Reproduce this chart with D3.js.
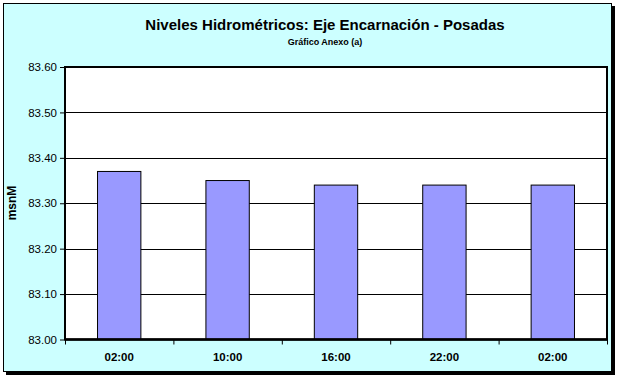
<!DOCTYPE html>
<html lang="es">
<head>
    <meta charset="utf-8">
    <title>Niveles Hidrométricos</title>
    <script src="https://d3js.org/d3.v7.min.js"></script>
    <style>
        body { margin: 0; background: #fff; }
        text { font-family: Arial, "Liberation Sans", sans-serif; }
    </style>
</head>
<body>
<script>
    // data
    const categories = ["02:00", "10:00", "16:00", "22:00", "02:00"];
    const values = [83.37, 83.35, 83.34, 83.34, 83.34];
    const yTicks = [83.00, 83.10, 83.20, 83.30, 83.40, 83.50, 83.60];

    const W = 619, H = 379;
    const plot = {left: 65, top: 67, right: 607, bottom: 339.5};

    const svg = d3.select("body").append("svg")
        .attr("width", W)
        .attr("height", H);

    // shadow + outer frame
    svg.append("rect")
        .attr("x", 6).attr("y", 6)
        .attr("width", 609).attr("height", 369)
        .attr("fill", "#000");
    svg.append("rect")
        .attr("x", 3.5).attr("y", 3.5)
        .attr("width", 608).attr("height", 368)
        .attr("fill", "#CCFFFF")
        .attr("stroke", "#000")
        .attr("stroke-width", 1);

    // titles
    svg.append("text")
        .attr("x", 325).attr("y", 30)
        .attr("text-anchor", "middle")
        .attr("font-size", 15)
        .attr("font-weight", "bold")
        .text("Niveles Hidrométricos: Eje Encarnación - Posadas");
    svg.append("text")
        .attr("x", 325).attr("y", 45)
        .attr("text-anchor", "middle")
        .attr("font-size", 9)
        .attr("font-weight", "bold")
        .text("Gráfico Anexo (a)");

    // scales
    const x = d3.scaleBand()
        .domain(d3.range(categories.length))
        .range([plot.left, plot.right])
        .paddingInner(0.6)
        .paddingOuter(0.3);

    const xb = d3.scaleLinear()
        .domain([0, categories.length])
        .range([plot.left, plot.right]);

    const y = d3.scaleLinear()
        .domain([83.00, 83.60])
        .range([plot.bottom, plot.top]);

    // plot background
    svg.append("rect")
        .attr("x", plot.left).attr("y", plot.top)
        .attr("width", plot.right - plot.left)
        .attr("height", plot.bottom - plot.top)
        .attr("fill", "#fff");

    // gridlines
    svg.append("g")
        .selectAll("line")
        .data(yTicks.slice(1, -1))
        .join("line")
        .attr("x1", plot.left).attr("x2", plot.right)
        .attr("y1", d => Math.round(y(d)) + 0.5)
        .attr("y2", d => Math.round(y(d)) + 0.5)
        .attr("stroke", "#000")
        .attr("stroke-width", 1);

    // bars
    svg.append("g")
        .selectAll("rect")
        .data(values)
        .join("rect")
        .attr("x", (d, i) => x(i))
        .attr("width", x.bandwidth())
        .attr("y", d => y(d))
        .attr("height", d => plot.bottom - y(d))
        .attr("fill", "#9999FF")
        .attr("stroke", "#000")
        .attr("stroke-width", 1);

    // plot border
    svg.append("rect")
        .attr("x", plot.left).attr("y", plot.top)
        .attr("width", plot.right - plot.left)
        .attr("height", plot.bottom - plot.top)
        .attr("fill", "none")
        .attr("stroke", "#000")
        .attr("stroke-width", 2);

    // y axis
    const yAxis = svg.append("g")
        .attr("transform", "translate(" + plot.left + ",0)")
        .call(d3.axisLeft(y).tickValues(yTicks).tickFormat(d3.format(".2f")).tickSize(5).tickPadding(3));
    yAxis.select(".domain").remove();
    yAxis.selectAll("line").attr("stroke", "#000");
    yAxis.selectAll("text").attr("font-size", 11.5).attr("fill", "#000")
        .attr("font-family", "Arial, 'Liberation Sans', sans-serif");

    // x axis (ticks on category boundaries)
    const xAxis = svg.append("g")
        .attr("transform", "translate(0," + plot.bottom + ")")
        .call(d3.axisBottom(xb).tickValues(d3.range(categories.length + 1)).tickFormat("").tickSize(5));
    xAxis.select(".domain").attr("stroke-width", 2.5).attr("d", "M" + plot.left + ",0H" + plot.right);
    xAxis.selectAll("line").attr("stroke", "#000");

    svg.append("g")
        .selectAll("text")
        .data(categories)
        .join("text")
        .attr("x", (d, i) => x(i) + x.bandwidth() / 2)
        .attr("y", 361)
        .attr("text-anchor", "middle")
        .attr("font-size", 11.5)
        .attr("font-weight", "bold")
        .text(d => d);

    // y axis title
    svg.append("text")
        .attr("transform", "translate(16,203) rotate(-90)")
        .attr("text-anchor", "middle")
        .attr("font-size", 12)
        .attr("font-weight", "bold")
        .text("msnM");
</script>
</body>
</html>
